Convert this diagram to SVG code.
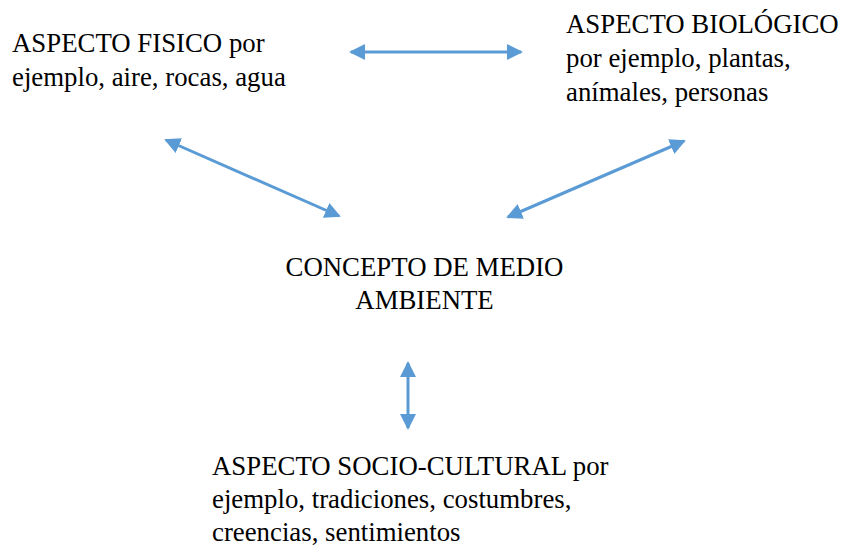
<svg xmlns="http://www.w3.org/2000/svg" width="843" height="548" viewBox="0 0 843 548">
<style>
text{font-family:"Liberation Serif","Times New Roman",serif;font-size:26.8px;fill:#000}
.c line{stroke:#5B9BD5;stroke-width:3;fill:none;marker-start:url(#a);marker-end:url(#a)}
</style>
<defs>
<marker id="a" viewBox="0 0 16 16" refX="14" refY="8" markerWidth="16" markerHeight="16" markerUnits="userSpaceOnUse" orient="auto-start-reverse">
<path d="M0,0 L16,8 L0,16 Z" fill="#5B9BD5"/>
</marker>
</defs>
<rect width="843" height="548" fill="#fff"/>
<g id="fisico"><text x="12" y="52">ASPECTO FISICO por</text><text x="12" y="86">ejemplo, aire, rocas, agua</text></g>
<g id="biologico"><text x="566" y="33">ASPECTO BIOLÓGICO</text><text x="566" y="67">por ejemplo, plantas,</text><text x="566" y="101">anímales, personas</text></g>
<g id="concepto"><text x="424.5" y="276" text-anchor="middle">CONCEPTO DE MEDIO</text><text x="424.5" y="309" text-anchor="middle">AMBIENTE</text></g>
<g id="socio"><text x="212" y="475">ASPECTO SOCIO-CULTURAL por</text><text x="212" y="508">ejemplo, tradiciones, costumbres,</text><text x="212" y="541">creencias, sentimientos</text></g>
<g class="c" id="connectors">
<line x1="351" y1="52" x2="521" y2="52"/>
<line x1="166" y1="140" x2="339" y2="216"/>
<line x1="684" y1="141" x2="508" y2="217"/>
<line x1="408" y1="363" x2="408" y2="428"/>
</g>
</svg>
